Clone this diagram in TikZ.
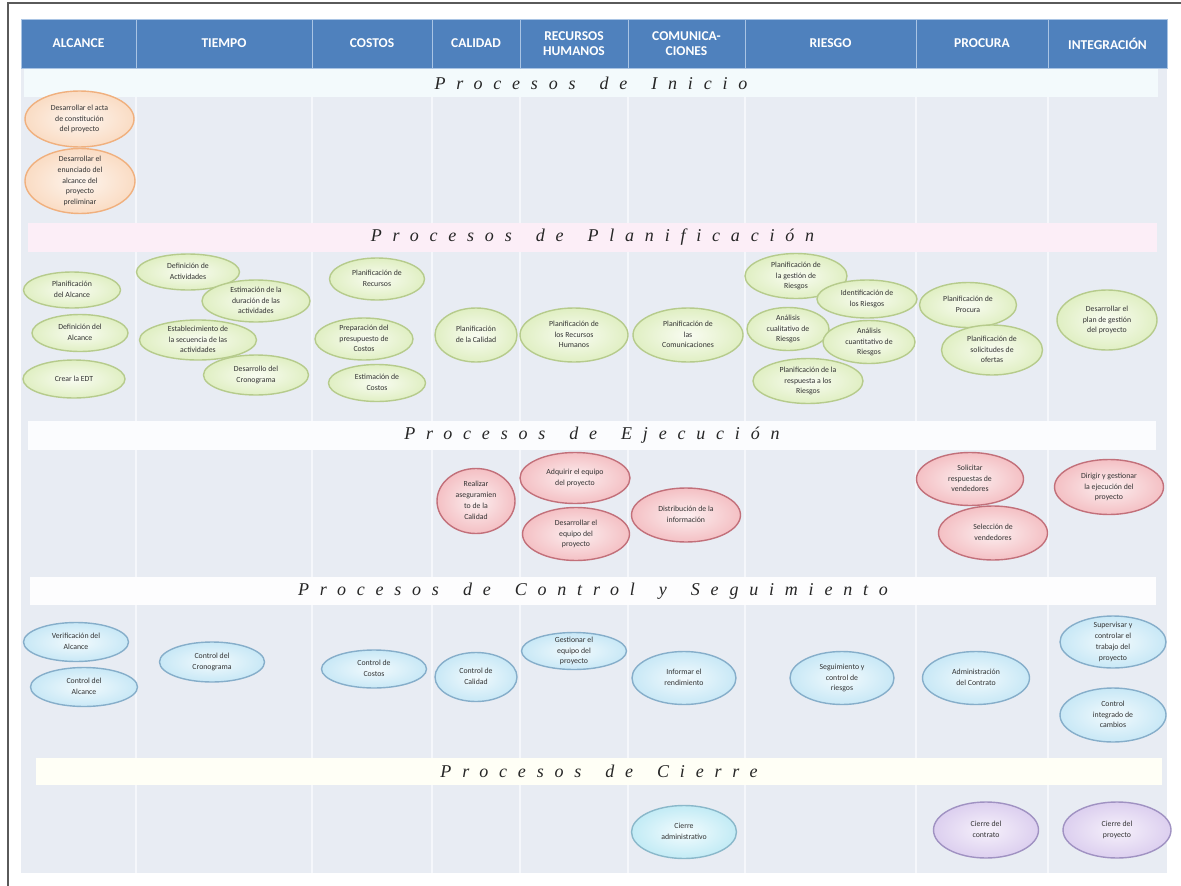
\documentclass[tikz,border=0pt]{standalone}
\usepackage{fontspec}
\setmainfont{Carlito}
\newfontfamily\ttlfont[LetterSpace=60]{Liberation Serif}
\usetikzlibrary{shapes.geometric}
\definecolor{hdrblue}{HTML}{4F81BD}
\definecolor{hdrline}{HTML}{A9C4E4}
\definecolor{bodybg}{HTML}{E8ECF3}
\definecolor{colline}{HTML}{F5F7FB}
\definecolor{frameC}{HTML}{5A5A5A}
\definecolor{stripIni}{HTML}{F3FAFC}
\definecolor{stripPla}{HTML}{FCEEF7}
\definecolor{stripEje}{HTML}{FBFCFE}
\definecolor{stripCon}{HTML}{FDFDFE}
\definecolor{stripCie}{HTML}{FFFFF6}
\definecolor{iniB}{HTML}{F0B07E}
\definecolor{iniI}{HTML}{FDF5EE}
\definecolor{iniO}{HTML}{FADCC4}
\definecolor{plaB}{HTML}{B6CB8C}
\definecolor{plaI}{HTML}{F9FCF2}
\definecolor{plaO}{HTML}{E0EFC3}
\definecolor{ejeB}{HTML}{C2707A}
\definecolor{ejeI}{HTML}{FCEFF0}
\definecolor{ejeO}{HTML}{F4C0C4}
\definecolor{conB}{HTML}{86AECA}
\definecolor{conI}{HTML}{F2FAFD}
\definecolor{conO}{HTML}{C8E8F6}
\definecolor{cieB}{HTML}{8AB8CA}
\definecolor{cieI}{HTML}{F3FCFE}
\definecolor{cieO}{HTML}{C2EBF5}
\definecolor{purB}{HTML}{A092C2}
\definecolor{purI}{HTML}{F6F1FB}
\definecolor{purO}{HTML}{DCCFEF}
\newcommand\et[1]{\smash{\makebox[0pt]{\raisebox{-2pt}{\begin{tabular}{@{}c@{}}#1\end{tabular}}}}}
\newcommand\pnode[6]{\node[#1, minimum width=#4, minimum height=#5] (#2) at (#3) {\et{#6}};}
\newcommand\wsp{\hspace{24pt}}
\begin{document}
\begin{tikzpicture}[x=1pt,y=-1pt,
  hdr/.style={rectangle, fill=hdrblue, draw=hdrline, line width=0.8pt, text=white,
    font=\bfseries\fontsize{13.5}{15.5}\selectfont, align=center, inner sep=0pt, minimum height=49},
  strip/.style={rectangle, inner sep=0pt, font=\ttlfont\fontsize{18}{18}\selectfont\itshape, text=black!85},
  proc/.style={ellipse, inner sep=0pt, outer sep=0pt, line width=1.4pt,
    font=\fontsize{7.8}{10.8}\selectfont, text=black!80},
  ini/.style={proc, draw=iniB, inner color=iniI, outer color=iniO},
  pla/.style={proc, draw=plaB, inner color=plaI, outer color=plaO},
  eje/.style={proc, draw=ejeB, inner color=ejeI, outer color=ejeO},
  con/.style={proc, draw=conB, inner color=conI, outer color=conO},
  cie/.style={proc, draw=cieB, inner color=cieI, outer color=cieO},
  pur/.style={proc, draw=purB, inner color=purI, outer color=purO}]
\useasboundingbox (0,0) rectangle (1181,886);
\fill[white] (0,0) rectangle (1181,886);
% outer frame
\draw[frameC, line width=2.5pt] (8,886) -- (8,3) -- (1181,3);
% body
\fill[bodybg] (21,68) rectangle (1167,873);
\foreach \x in {136,312,432,520,628,745,916,1048}
  \draw[colline, line width=2pt] (\x,68) -- (\x,873);
% header
\node[hdr, minimum width=115] (hAlc) at (78.5,43.5) {ALCANCE};
\node[hdr, minimum width=176] (hTie) at (224,43.5) {TIEMPO};
\node[hdr, minimum width=120] (hCos) at (372,43.5) {COSTOS};
\node[hdr, minimum width=88] (hCal) at (476,43.5) {CALIDAD};
\node[hdr, minimum width=108] (hRrh) at (574,43.5) {RECURSOS\\HUMANOS};
\node[hdr, minimum width=117] (hCom) at (686.5,43.5) {COMUNICA-\\CIONES};
\node[hdr, minimum width=171] (hRie) at (830.5,43.5) {RIESGO};
\node[hdr, minimum width=132] (hPro) at (982,43.5) {PROCURA};
\node[hdr, minimum width=119] (hInt) at (1107.5,43.5) {INTEGRACIÓN};
% phase strips
\node[strip, fill=stripIni, minimum width=1134, minimum height=28] (pIni) at (591,83) {Procesos\wsp de\wsp Inicio};
\node[strip, fill=stripPla, minimum width=1129, minimum height=29] (pPla) at (592.5,237.5) {Procesos\wsp de\wsp Planificación};
\node[strip, fill=stripEje, minimum width=1128, minimum height=29] (pEje) at (592,435.5) {Procesos\wsp de\wsp Ejecución};
\node[strip, fill=stripCon, minimum width=1126, minimum height=28] (pCon) at (593,591) {Procesos\wsp de\wsp Control\wsp y\wsp Seguimiento};
\node[strip, fill=stripCie, minimum width=1126, minimum height=27] (pCie) at (599,771.5) {Procesos\wsp de\wsp Cierre};
% Inicio
\pnode{ini}{i1}{79.5,119}{109}{56}{Desarrollar el acta\\de constitución\\del proyecto}
\pnode{ini}{i2}{80,181}{110}{65}{Desarrollar el\\enunciado del\\alcance del\\proyecto\\preliminar}
% Planificacion
\pnode{pla}{a1}{72,290}{97}{36}{Planificación\\del Alcance}
\pnode{pla}{a2}{80,333}{96}{37}{Definición del\\Alcance}
\pnode{pla}{a3}{74,379}{102}{38}{Crear la EDT}
\pnode{pla}{t1}{188,272}{103}{36}{Definición de\\Actividades}
\pnode{pla}{t2}{256,301}{108}{42}{Estimación de la\\duración de las\\actividades}
\pnode{pla}{t3}{198,340}{117}{40}{Establecimiento de\\la secuencia de las\\actividades}
\pnode{pla}{t4}{256,375}{105}{40}{Desarrollo del\\Cronograma}
\pnode{pla}{c1}{377,279}{95}{42}{Planificación de\\Recursos}
\pnode{pla}{c2}{364,339}{98}{42}{Preparación del\\presupuesto de\\Costos}
\pnode{pla}{c3}{377,383}{97}{37}{Estimación de\\Costos}
\pnode{pla}{q1}{476,335}{82}{54}{Planificación\\de la Calidad}
\pnode{pla}{h1}{574,335}{108}{54}{Planificación de\\los Recursos\\Humanos}
\pnode{pla}{m1}{688,335}{110}{54}{Planificación de\\las\\Comunicaciones}
\pnode{pla}{r1}{796,276}{102}{45}{Planificación de\\la gestión de\\Riesgos}
\pnode{pla}{r2}{867,299}{100}{38}{Identificación de\\los Riesgos}
\pnode{pla}{r3}{788,329}{82}{43}{Análisis\\cualitativo de\\Riesgos}
\pnode{pla}{r4}{869,342}{92}{43}{Análisis\\cuantitativo de\\Riesgos}
\pnode{pla}{r5}{808,381}{110}{45}{Planificación de la\\respuesta a los\\Riesgos}
\pnode{pla}{p1}{968,305}{97}{45}{Planificación de\\Procura}
\pnode{pla}{p2}{992,350}{101}{50}{Planificación de\\solicitudes de\\ofertas}
\pnode{pla}{g1}{1107,320}{100}{60}{Desarrollar el\\plan de gestión\\del proyecto}
% Ejecucion
\pnode{eje}{e1}{476,501}{78}{65}{Realizar\\aseguramien\\to de la\\Calidad}
\pnode{eje}{e2}{575,478}{110}{51}{Adquirir el equipo\\del proyecto}
\pnode{eje}{e3}{576,534}{107}{53}{Desarrollar el\\equipo del\\proyecto}
\pnode{eje}{e4}{686,515}{109}{54}{Distribución de la\\información}
\pnode{eje}{e5}{970,479}{107}{53}{Solicitar\\respuestas de\\vendedores}
\pnode{eje}{e6}{993,533}{109}{54}{Selección de\\vendedores}
\pnode{eje}{e7}{1109,487}{109}{55}{Dirigir y gestionar\\la ejecución del\\proyecto}
% Control y seguimiento
\pnode{con}{k1}{76,642}{105}{39}{Verificación del\\Alcance}
\pnode{con}{k2}{84,687}{107}{39}{Control del\\Alcance}
\pnode{con}{k3}{212,662}{105}{40}{Control del\\Cronograma}
\pnode{con}{k4}{374,669}{105}{38}{Control de\\Costos}
\pnode{con}{k5}{476,677}{82}{49}{Control de\\Calidad}
\pnode{con}{k6}{574,651}{105}{37}{Gestionar el\\equipo del\\proyecto}
\pnode{con}{k7}{684,678}{104}{53}{Informar el\\rendimiento}
\pnode{con}{k8}{842,678}{104}{53}{Seguimiento y\\control de\\riesgos}
\pnode{con}{k9}{976,678}{107}{53}{Administración\\del Contrato}
\pnode{con}{k10}{1113,642}{106}{52}{Supervisar y\\controlar el\\trabajo del\\proyecto}
\pnode{con}{k11}{1113,715}{106}{54}{Control\\integrado de\\cambios}
% Cierre
\pnode{cie}{z1}{684,832}{105}{53}{Cierre\\administrativo}
\pnode{pur}{z2}{986,830}{105}{56}{Cierre del\\contrato}
\pnode{pur}{z3}{1117,830}{108}{56}{Cierre del\\proyecto}
\end{tikzpicture}
\end{document}
